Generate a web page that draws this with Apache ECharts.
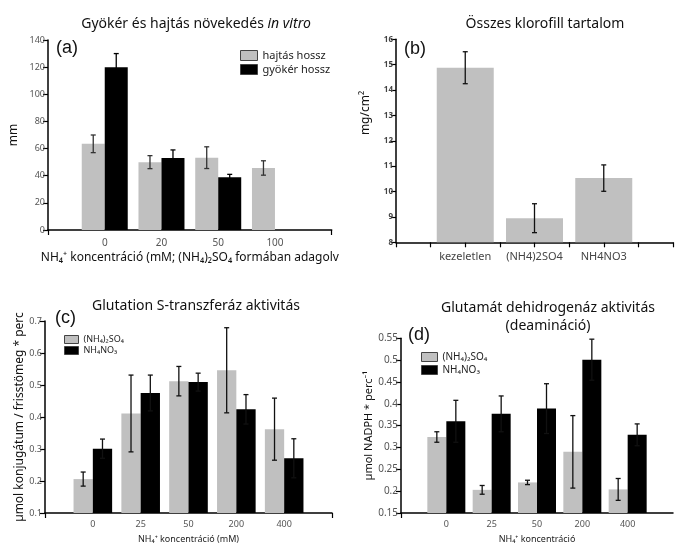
<!DOCTYPE html>
<html>
<head>
<meta charset="utf-8">
<script src="https://cdn.jsdelivr.net/npm/echarts@6/dist/echarts.min.js"></script>
<style>
  html, body { margin: 0; padding: 0; background: #fff; }
  #chart { width: 676px; height: 545px; }
</style>
</head>
<body>
<div id="chart"></div>
<script>
// (a) shoot and root length in vitro, by NH4+ dose
const aDoses = ['0', '20', '50', '100'];
const aShootMean = [63.5, 50, 53.3, 45.7];
const aShootErr = [6.5, 4.8, 8, 5.3];
const aRootMean = [120, 53, 38.8, null];
const aRootErr = [10, 6, 2.2, null];
const aTicks = [0, 140, 20];

// (b) total chlorophyll content
const bTreatments = ['kezeletlen', '(NH4)2SO4', 'NH4NO3'];
const bChl = [14.88, 8.95, 10.53];
const bChlErr = [0.63, 0.57, 0.52];
const bTicks = [8, 16, 1];

// (c) glutathione S-transferase activity
const cDoses = ['0', '25', '50', '200', '400'];
const cSulfate = [0.206, 0.411, 0.512, 0.546, 0.362];
const cSulfateErr = [0.022, 0.12, 0.046, 0.133, 0.097];
const cNitrate = [0.301, 0.475, 0.509, 0.424, 0.271];
const cNitrateErr = [0.03, 0.056, 0.028, 0.046, 0.061];
const cTicks = [0.1, 0.7, 0.1];

// (d) glutamate dehydrogenase activity (deamination)
const dDoses = ['0', '25', '50', '200', '400'];
const dSulfate = [0.324, 0.203, 0.22, 0.29, 0.204];
const dSulfateErr = [0.012, 0.01, 0.005, 0.083, 0.025];
const dNitrate = [0.36, 0.377, 0.389, 0.501, 0.329];
const dNitrateErr = [0.048, 0.041, 0.057, 0.047, 0.025];
const dTicks = [0.15, 0.55, 0.05];

const SULF = '(NH\u2084)\u2082SO\u2084';
const NITR = 'NH\u2084NO\u2083';
const GRAY = '#c0c0c0';
const FONT = 'Noto Sans';

// pad a value list onto a category axis that has empty slots
function padded(values, total, indexOf) {
  const out = new Array(total).fill(null);
  values.forEach((v, i) => { out[indexOf(i)] = v; });
  return out;
}
function errData(means, errs, indexOf) {
  const out = [];
  means.forEach((m, i) => { if (m != null && errs[i] != null) out.push([indexOf(i), m, errs[i]]); });
  return out;
}
function errRender(offsetPx, capHalf, color, width) {
  return function (params, api) {
    const x = api.value(0), m = api.value(1), e = api.value(2);
    const top = api.coord([x, m + e]);
    const bot = api.coord([x, m - e]);
    const cx = top[0] + offsetPx;
    const st = { stroke: color, lineWidth: width };
    return {
      type: 'group',
      children: [
        { type: 'line', shape: { x1: cx, y1: top[1], x2: cx, y2: bot[1] }, style: st },
        { type: 'line', shape: { x1: cx - capHalf, y1: top[1], x2: cx + capHalf, y2: top[1] }, style: st },
        { type: 'line', shape: { x1: cx - capHalf, y1: bot[1], x2: cx + capHalf, y2: bot[1] }, style: st }
      ]
    };
  };
}
function errSeries(idx, data, offsetPx, capHalf, color) {
  return {
    type: 'custom', xAxisIndex: idx, yAxisIndex: idx, z: 5,
    renderItem: errRender(offsetPx, capHalf, color, 1.3),
    encode: { x: 0, y: 1 }, data: data, silent: true
  };
}

const aIdx = i => i + 1;
const bIdx = i => 2 + 2 * i;
const cIdx = i => i + 1;

const aCats = ['', ...aDoses, ''];
const bCats = padded(bTreatments, 9, bIdx).map(v => v == null ? '' : v);
const cCats = ['', ...cDoses, ''];
const dCats = ['', ...dDoses, ''];

const axisLine = { lineStyle: { color: '#000', width: 1.5 } };
const tickStyle = { lineStyle: { color: '#000', width: 1.2 }, length: 5 };

function yAxis(idx, ticks, fontSize, extra) {
  return Object.assign({
    type: 'value', gridIndex: idx, min: ticks[0], max: ticks[1], interval: ticks[2],
    axisLine: Object.assign({ show: true }, axisLine),
    axisTick: Object.assign({ show: true }, tickStyle),
    splitLine: { show: false },
    axisLabel: { color: '#555', fontSize: fontSize, fontFamily: FONT, margin: 3 }
  }, extra || {});
}

const titleStyle = { fontFamily: FONT, fontSize: 14, fontWeight: 'normal', color: '#111' };

const chart = echarts.init(document.getElementById('chart'), null, { renderer: 'canvas' });

chart.setOption({
  animation: false,
  backgroundColor: '#fff',
  title: [
    {
      text: '{n|Gyökér és hajtás növekedés }{i|in vitro}',
      left: 191, top: 12, textAlign: 'center',
      textStyle: Object.assign({}, titleStyle, { rich: {
        n: { fontFamily: FONT, fontSize: 14, fontWeight: 'normal', color: '#111' },
        i: { fontFamily: FONT, fontSize: 14, fontWeight: 'normal', fontStyle: 'italic', color: '#111' }
      } })
    },
    { text: 'Összes klorofill tartalom', left: 540, top: 12, textAlign: 'center', textStyle: titleStyle },
    { text: 'Glutation S-transzferáz aktivitás', left: 191, top: 294, textAlign: 'center', textStyle: titleStyle },
    { text: 'Glutamát dehidrogenáz aktivitás\n(deamináció)', left: 543, top: 294, textAlign: 'center',
      textStyle: Object.assign({}, titleStyle, { lineHeight: 18 }) }
  ],
  legend: [
    { data: ['hajtás hossz', 'gyökér hossz'], orient: 'vertical', left: 235, top: 45,
      itemWidth: 17, itemHeight: 10, itemGap: 3, icon: 'rect',
      itemStyle: { borderColor: '#444', borderWidth: 1 },
      textStyle: { fontFamily: FONT, fontSize: 11, color: '#222', lineHeight: 11 } },
    { data: [SULF, NITR], orient: 'vertical', left: 59, top: 330,
      itemWidth: 14, itemHeight: 8, itemGap: 2, icon: 'rect',
      itemStyle: { borderColor: '#444', borderWidth: 1 },
      textStyle: { fontFamily: FONT, fontSize: 9, color: '#222', lineHeight: 9 } },
    { data: [SULF, NITR], orient: 'vertical', left: 416, top: 347,
      itemWidth: 16, itemHeight: 9, itemGap: 3, icon: 'rect',
      itemStyle: { borderColor: '#444', borderWidth: 1 },
      textStyle: { fontFamily: FONT, fontSize: 10, color: '#222', lineHeight: 10 } }
  ],
  grid: [
    { left: 48, top: 40, width: 283.7, height: 190 },
    { left: 396, top: 39.3, width: 287, height: 203 },
    { left: 45, top: 321, width: 287, height: 194.7 },
    { left: 401, top: 338.3, width: 282, height: 177.4 }
  ],
  xAxis: [
    { type: 'category', gridIndex: 0, data: aCats, boundaryGap: false,
      axisLine: axisLine, axisTick: Object.assign({ interval: (i) => i === 0 || i === aCats.length - 1 }, tickStyle),
      axisLabel: { interval: 0, color: '#555', fontSize: 10, fontFamily: FONT, margin: 8 },
      name: 'NH\u2084\u207A koncentráció (mM; (NH\u2084)\u2082SO\u2084 formában adagolv',
      nameLocation: 'middle', nameGap: 22,
      nameTextStyle: { fontFamily: FONT, fontSize: 12, color: '#111' } },
    { type: 'category', gridIndex: 1, data: bCats, boundaryGap: false,
      axisLine: axisLine, axisTick: Object.assign({ interval: 0 }, tickStyle),
      axisLabel: { interval: 0, color: '#444', fontSize: 11, fontFamily: FONT, margin: 9 } },
    { type: 'category', gridIndex: 2, data: cCats, boundaryGap: false,
      axisLine: axisLine, axisTick: Object.assign({ interval: (i) => i === 0 || i === cCats.length - 1 }, tickStyle),
      axisLabel: { interval: 0, color: '#555', fontSize: 9, fontFamily: FONT, margin: 7 },
      name: 'NH\u2084\u207A koncentráció (mM)', nameLocation: 'middle', nameGap: 22,
      nameTextStyle: { fontFamily: FONT, fontSize: 9, color: '#222' } },
    { type: 'category', gridIndex: 3, data: dCats, boundaryGap: false,
      axisLine: axisLine, axisTick: Object.assign({ interval: (i) => i === 0 }, tickStyle),
      axisLabel: { interval: 0, color: '#555', fontSize: 9, fontFamily: FONT, margin: 7 },
      name: 'NH\u2084\u207A koncentráció', nameLocation: 'middle', nameGap: 22,
      nameTextStyle: { fontFamily: FONT, fontSize: 9, color: '#222' } }
  ],
  yAxis: [
    yAxis(0, aTicks, 9, { name: 'mm', nameLocation: 'middle', nameGap: 28,
      nameTextStyle: { fontFamily: FONT, fontSize: 12, color: '#111' } }),
    yAxis(1, bTicks, 8, { axisLabel: { color: '#444', fontSize: 8, fontWeight: 'bold', fontFamily: FONT, margin: 3 } }),
    yAxis(2, cTicks, 9, { name: 'µmol konjugátum / frisstömeg * perc', nameLocation: 'middle', nameGap: 14,
      nameTextStyle: { fontFamily: FONT, fontSize: 12, color: '#111' } }),
    yAxis(3, dTicks, 10, { name: 'µmol NADPH * perc\u207B\u00B9', nameLocation: 'middle', nameGap: 23,
      nameTextStyle: { fontFamily: FONT, fontSize: 11, color: '#111' } })
  ],
  graphic: [
    { type: 'text', left: 56, top: 39, style: { text: '(a)', font: '18px "Liberation Sans"', fill: '#111' } },
    { type: 'text', left: 404, top: 40, style: { text: '(b)', font: '18px "Liberation Sans"', fill: '#111' } },
    { type: 'text', left: 55, top: 309, style: { text: '(c)', font: '18px "Liberation Sans"', fill: '#111' } },
    { type: 'text', left: 408, top: 326, style: { text: '(d)', font: '18px "Liberation Sans"', fill: '#111' } },
    { type: 'text', x: 366, y: 113, rotation: Math.PI / 2,
      style: { text: 'mg/cm\u00B2', font: '12px "Noto Sans"', fill: '#111', align: 'center', verticalAlign: 'middle' } }
  ],
  series: [
    // (a)
    { name: 'hajtás hossz', type: 'bar', xAxisIndex: 0, yAxisIndex: 0, barWidth: 23, barGap: '0%',
      itemStyle: { color: GRAY }, data: padded(aShootMean, aCats.length, aIdx) },
    { name: 'gyökér hossz', type: 'bar', xAxisIndex: 0, yAxisIndex: 0, barWidth: 23, barGap: '0%',
      itemStyle: { color: '#000' }, data: padded(aRootMean, aCats.length, aIdx) },
    errSeries(0, errData(aShootMean, aShootErr, aIdx), -11.5, 2.5, '#333'),
    errSeries(0, errData(aRootMean, aRootErr, aIdx), 11.5, 2.5, '#000'),
    // (b)
    { name: 'klorofill', type: 'bar', xAxisIndex: 1, yAxisIndex: 1, barWidth: 57,
      itemStyle: { color: GRAY }, data: padded(bChl, bCats.length, bIdx) },
    errSeries(1, errData(bChl, bChlErr, bIdx), 0, 2.5, '#111'),
    // (c)
    { name: SULF, type: 'bar', xAxisIndex: 2, yAxisIndex: 2, barWidth: 19.3, barGap: '0%',
      itemStyle: { color: GRAY }, data: padded(cSulfate, cCats.length, cIdx) },
    { name: NITR, type: 'bar', xAxisIndex: 2, yAxisIndex: 2, barWidth: 19.3, barGap: '0%',
      itemStyle: { color: '#000' }, data: padded(cNitrate, cCats.length, cIdx) },
    errSeries(2, errData(cSulfate, cSulfateErr, cIdx), -9.65, 2.5, '#111'),
    errSeries(2, errData(cNitrate, cNitrateErr, cIdx), 9.65, 2.5, '#111'),
    // (d)
    { name: SULF, type: 'bar', xAxisIndex: 3, yAxisIndex: 3, barWidth: 19, barGap: '0%',
      itemStyle: { color: GRAY }, data: padded(dSulfate, dCats.length, cIdx) },
    { name: NITR, type: 'bar', xAxisIndex: 3, yAxisIndex: 3, barWidth: 19, barGap: '0%',
      itemStyle: { color: '#000' }, data: padded(dNitrate, dCats.length, cIdx) },
    errSeries(3, errData(dSulfate, dSulfateErr, cIdx), -9.5, 2.5, '#111'),
    errSeries(3, errData(dNitrate, dNitrateErr, cIdx), 9.5, 2.5, '#111')
  ]
});
</script>
</body>
</html>
